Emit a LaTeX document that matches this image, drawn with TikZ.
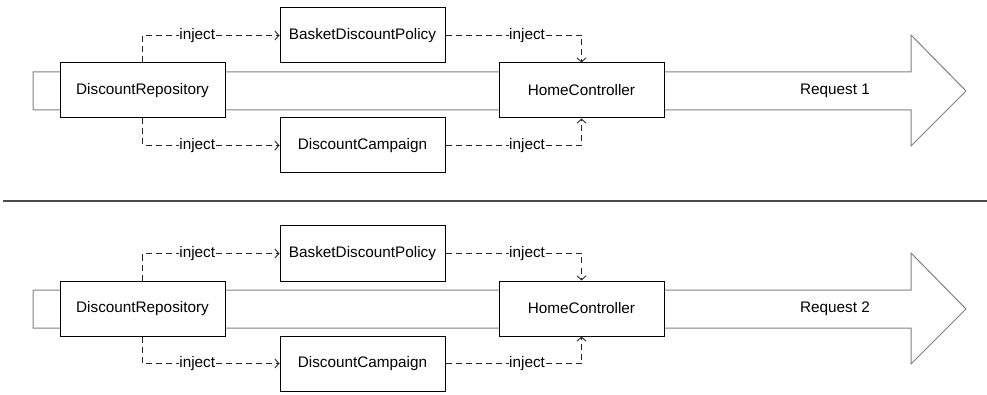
\documentclass[tikz,border=0pt]{standalone}
\usepackage{fontspec}
\setmainfont{Liberation Sans}
\usetikzlibrary{arrows.meta}
\begin{document}
\begin{tikzpicture}[x=1pt,y=-1pt,
  box/.style={draw=black, fill=white, line width=1pt, minimum width=165pt, minimum height=55pt, inner sep=0pt, font=\fontsize{15.3}{18}\selectfont},
  flow/.style={draw=gray, fill=white, line width=1pt, line join=miter},
  inj/.style={draw=black!85, line width=0.9pt, dash pattern=on 6pt off 4pt, -{Straight Barb[length=4pt,width=9pt]}},
  lbl/.style={fill=white, inner sep=0.5pt, font=\fontsize{15.3}{18}\selectfont},
  reqlbl/.style={inner sep=0pt, font=\fontsize{15.3}{18}\selectfont},
  sep/.style={draw=gray!60!black, line width=1.5pt}]
\useasboundingbox (0,0) rectangle (987,395);
\foreach \k/\dy in {1/0, 2/218} {
  \begin{scope}[shift={(0,\dy)}]
    \draw[flow] (33,72) -- (911,72) -- (911,35) -- (966,91) -- (911,146) -- (911,110) -- (33,110) -- cycle;
    \node[reqlbl] (req\k) at (835,91) {Request \k};
    \node[box] (dr\k) at (142.5,90.5) {DiscountRepository};
    \node[box] (bdp\k) at (362.5,35.5) {BasketDiscountPolicy};
    \node[box] (dc\k) at (362.5,145.5) {DiscountCampaign};
    \node[box] (hc\k) at (581.5,90.5) {HomeController};
    \draw[inj] (dr\k.north) |- node[lbl,pos=0.7]{inject} (bdp\k.west);
    \draw[inj] (dr\k.south) |- node[lbl,pos=0.7]{inject} (dc\k.west);
    \draw[inj] (bdp\k.east) -| node[lbl,pos=0.3]{inject} (hc\k.north);
    \draw[inj] (dc\k.east) -| node[lbl,pos=0.3]{inject} (hc\k.south);
  \end{scope}
}
\coordinate (sepL) at (3,201);
\coordinate (sepR) at (987,201);
\draw[sep] (sepL) -- (sepR);
\end{tikzpicture}
\end{document}
